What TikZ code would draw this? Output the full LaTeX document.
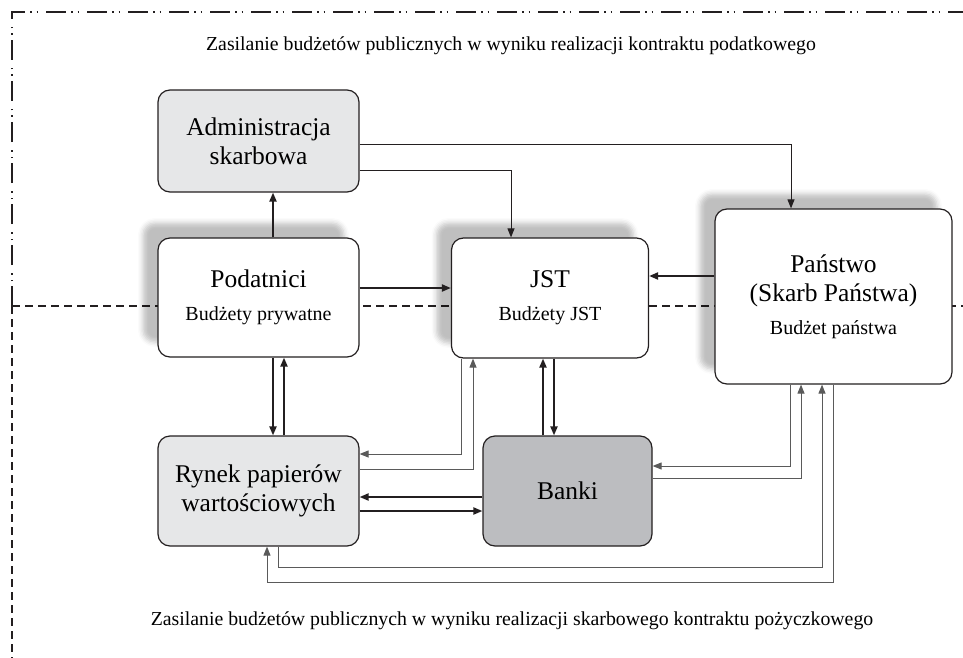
\documentclass[tikz,border=0pt]{standalone}
\usepackage{fontspec}
\setmainfont{Liberation Serif}
\usetikzlibrary{arrows.meta}
\usetikzlibrary{shadows.blur}
\definecolor{lightbox}{HTML}{E6E7E8}
\definecolor{darkbox}{HTML}{BCBDC0}
\definecolor{edge}{HTML}{231F20}
\definecolor{backline}{HTML}{5A5A5A}
\newcommand{\namefont}{\fontsize{25.5}{29}\selectfont}
\newcommand{\subfont}{\fontsize{20}{23}\selectfont}
\newcommand{\capfont}{\fontsize{19.8}{22}\selectfont}

\begin{document}
\begin{tikzpicture}[x=1pt, y=-1pt,
    box/.style={draw=edge, line width=1.2pt, rounded corners=12pt, align=center, inner sep=0pt, font=\namefont},
    shadowbox/.style={box, fill=white, blur shadow={shadow xshift=-15pt, shadow yshift=15pt, shadow opacity=25, shadow blur radius=5pt}},
    flow/.style={line width=2pt, draw=edge, -{Triangle[length=9pt,width=7pt]}},
    thinflow/.style={line width=1pt, draw=edge, -{Triangle[length=9pt,width=7pt]}},
    grayflow/.style={line width=1pt, draw=backline, -{Triangle[length=9pt,width=7pt]}},
    framedots/.style={line width=1.4pt, draw=edge, dash pattern=on 20pt off 5pt on 1.5pt off 5pt on 1.5pt off 8pt},
    framedash/.style={line width=1.4pt, draw=edge, dash pattern=on 8pt off 5pt},
  ]
    \useasboundingbox (0,0) rectangle (963,658);

    % frames of the two areas
    \draw[framedots] (12,306) -- (12,12) -- (963,12);
    \draw[framedash] (12,306) -- (12,658);
    \draw[framedash] (12,306) -- (963,306);

    \node[font=\capfont] (captop) at (511,46) {Zasilanie budżetów publicznych w wyniku realizacji kontraktu podatkowego};
    \node[font=\capfont] (capbot) at (512,621) {Zasilanie budżetów publicznych w wyniku realizacji skarbowego kontraktu pożyczkowego};

    % boxes
    \node[box, fill=lightbox, minimum width=201pt, minimum height=102pt] (adm) at (258.5,141) {Administracja\\skarbowa};
    \node[shadowbox, minimum width=201pt, minimum height=119pt] (pod) at (258.5,297.5) {Podatnici\\[4pt]{\subfont Budżety prywatne}};
    \node[shadowbox, minimum width=197pt, minimum height=120pt] (jst) at (550,298) {JST\\[4pt]{\subfont Budżety JST}};
    \node[shadowbox, minimum width=237pt, minimum height=175pt] (pan) at (833.5,296.5) {Państwo\\(Skarb Państwa)\\[4pt]{\subfont Budżet państwa}};
    \node[box, fill=lightbox, minimum width=201pt, minimum height=110pt] (ryn) at (258.5,491) {Rynek papierów\\wartościowych};
    \node[box, fill=darkbox, minimum width=169pt, minimum height=110pt] (ban) at (567.5,491) {Banki};

    % connectors
    \draw[flow] (pod.north -| 273,0) -- (adm.south -| 273,0);
    \draw[flow] (pod.east |- 0,288) -- (jst.west |- 0,288);
    \draw[thinflow] (adm.east |- 0,170) -| (jst.north -| 511,0);
    \draw[thinflow] (adm.east |- 0,144) -| (pan.north -| 791,0);
    \draw[flow] (pan.west |- 0,276) -- (jst.east |- 0,276);
    \draw[flow] (pod.south -| 273,0) -- (ryn.north -| 273,0);
    \draw[flow] (ryn.north -| 284,0) -- (pod.south -| 284,0);
    \draw[grayflow] (jst.south -| 461,0) |- (ryn.east |- 0,454);
    \draw[grayflow] (ryn.east |- 0,469) -| (jst.south -| 473,0);
    \draw[flow] (ban.north -| 543,0) -- (jst.south -| 543,0);
    \draw[flow] (jst.south -| 554,0) -- (ban.north -| 554,0);
    \draw[flow] (ban.west |- 0,497) -- (ryn.east |- 0,497);
    \draw[flow] (ryn.east |- 0,511) -- (ban.west |- 0,511);
    \draw[grayflow] (pan.south -| 790,0) |- (ban.east |- 0,466);
    \draw[grayflow] (ban.east |- 0,478) -| (pan.south -| 801,0);
    \draw[grayflow] (ryn.south -| 278,0) -- ++(0,21) -| (pan.south -| 822,0);
    \draw[grayflow] (pan.south -| 833,0) -- ++(0,198) -| (ryn.south -| 267,0);
\end{tikzpicture}
\end{document}
